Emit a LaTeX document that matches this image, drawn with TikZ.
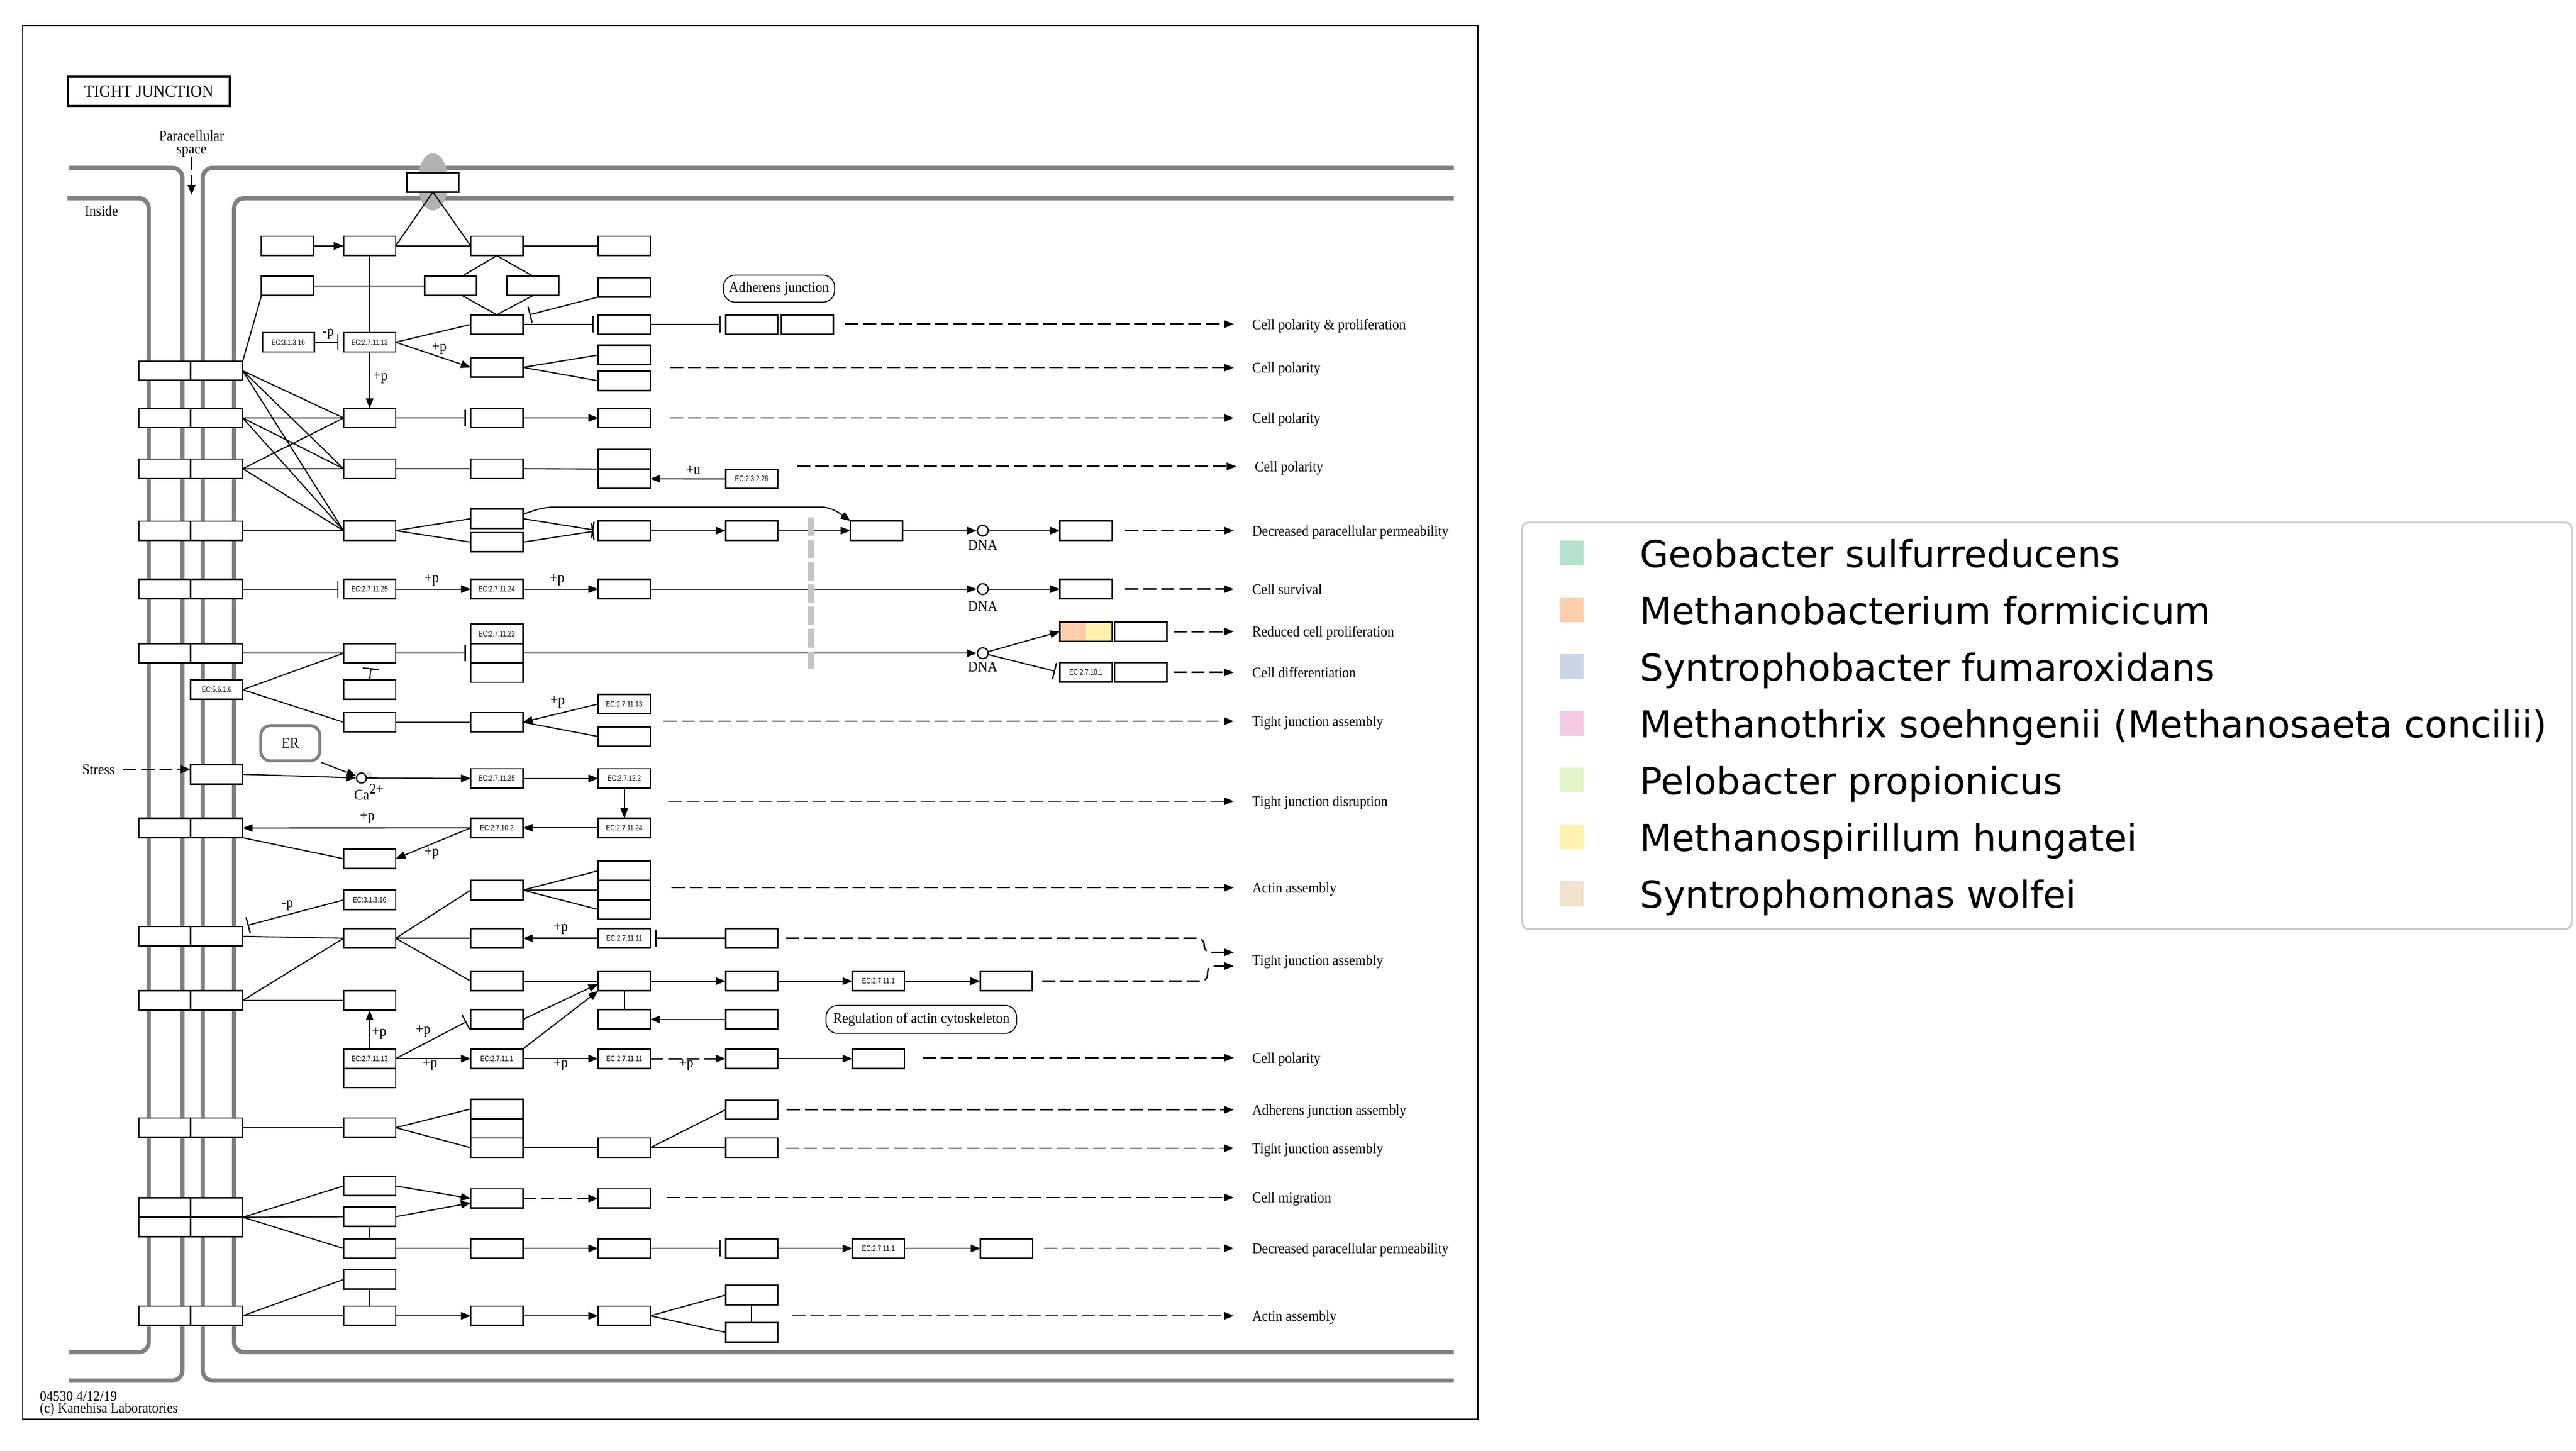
\documentclass[tikz,border=0pt]{standalone}
\usepackage{fontspec}
\usetikzlibrary{arrows.meta,calc}
\newfontfamily\keggfont[FakeStretch=0.92]{Liberation Serif}
\newfontfamily\ecfont[FakeStretch=0.8]{Liberation Sans}
\newfontfamily\legendfont{DejaVu Sans}
\definecolor{geo}{HTML}{B3E2CD}
\definecolor{mbf}{HTML}{FDCDAC}
\definecolor{sfu}{HTML}{CBD5E8}
\definecolor{mso}{HTML}{F4CAE4}
\definecolor{ppr}{HTML}{E6F5C9}
\definecolor{mhu}{HTML}{FFF2AE}
\definecolor{swo}{HTML}{F1E2CC}
\begin{document}
\begin{tikzpicture}[x=1pt,y=-1pt,
    gene/.style={draw,line width=0.9pt,fill=white,minimum width=31.7pt,
        minimum height=11.8pt,inner sep=0pt,outer sep=0pt},
    ecbox/.style={gene,font=\ecfont\fontsize{4.8}{5}\selectfont},
    lbl/.style={inner sep=0pt,font=\keggfont\fontsize{9}{10}\selectfont},
    outcome/.style={lbl,anchor=west,text height=6.4pt,text depth=0pt},
    pill/.style={draw,line width=0.6pt,rounded corners=7pt,inner sep=0pt,
        font=\keggfont\fontsize{9}{10}\selectfont},
    dnacirc/.style={circle,draw,line width=0.8pt,fill=white,minimum size=6.6pt,inner sep=0pt}]
  \tikzstyle{membrane}=[draw=gray,line width=2.6pt,rounded corners=6pt]
  \tikzstyle{act}=[line width=0.7pt,-{Triangle[length=6pt,width=4.6pt]}]
  \tikzstyle{inh}=[line width=0.7pt,-{Bar[width=10pt,line width=0.8pt]},shorten >=3pt]
  \tikzstyle{link}=[line width=0.7pt]
  \tikzstyle{dact}=[act,line width=0.9pt,dash pattern=on 8pt off 3pt]
  \tikzstyle{outarrow}=[dact,shorten >=11pt]
  \tikzstyle{swatch}=[minimum width=14.5pt,minimum height=15pt,inner sep=0pt]
  \tikzstyle{legtext}=[anchor=base west,inner sep=0pt,font=\legendfont\fontsize{22.6}{26}\selectfont]

  \useasboundingbox (0,0) rectangle (1568,883);
  \fill[white] (0,0) rectangle (1568,883);

  % frame and membranes
  \draw[line width=0.9pt] (13.8,15.7) rectangle (899.5,864);
  \node[draw,line width=1.2pt,minimum width=98.5pt,minimum height=17.6pt,inner sep=0pt,
      font=\keggfont\fontsize{10.5}{12}\selectfont] (title) at (90.6,55.6) {TIGHT JUNCTION};
  \draw[membrane] (42,102.2) -- (111,102.2) -- (111,840.3) -- (42,840.3);
  \draw[membrane] (41,120.7) -- (90.5,120.7) -- (90.5,823) -- (42,823);
  \draw[membrane] (885,102.2) -- (123.4,102.2) -- (123.4,840.3) -- (885,840.3);
  \draw[membrane] (885,120.7) -- (142.5,120.7) -- (142.5,823) -- (885,823);
  \fill[gray!60] (263.5,110.7) ellipse [x radius=9.3pt,y radius=17.4pt];

  \node[lbl,align=center,font=\keggfont\fontsize{9}{7.8}\selectfont] (para) at (116.6,87.4) {Paracellular\\space};
  \coordinate (paraend) at (116.6,118.6);
  \draw[dact] (para.south) -- (paraend);
  \node[lbl] (inside) at (61.7,128.5) {Inside};

  % junction proteins
  \foreach \n/\y in {1/225.7,2/254.4,3/285.3,4/323.1,5/358.6,6/397.6,7/504,8/569.9,9/609,10/686.4,12/800.9}
    {\node[gene] (ja\n) at (100.3,\y) {};
     \node[gene] (jb\n) at (131.9,\y) {};}
  \node[gene] (ja11) at (100.3,735) {};
  \node[gene] (jb11) at (131.9,735) {};
  \node[gene] (jc11) at (100.3,746.8) {};
  \node[gene] (jd11) at (131.9,746.8) {};
  \node[ecbox] (ec5616) at (131.9,419.8) {EC:5.6.1.6};
  \node[gene] (js) at (131.9,471.3) {};

  % top block
  \node[gene] (cldn) at (263.5,111) {};
  \node[gene] (a1) at (175,149.7) {};
  \node[gene] (b1) at (225,149.7) {};
  \node[gene] (c1) at (302.4,149.7) {};
  \node[gene] (d1) at (380,149.7) {};
  \node[gene] (a2) at (175,174) {};
  \node[gene] (e2l) at (274.3,174) {};
  \node[gene] (e2r) at (324.4,174) {};
  \node[gene] (d2) at (380,174.9) {};
  \node[gene] (c3) at (302.4,197.5) {};
  \node[gene] (d3) at (380,197.5) {};
  \node[gene] (e3a) at (457.5,197.5) {};
  \node[gene] (e3b) at (491.4,197.5) {};
  \node[pill,minimum width=67.6pt,minimum height=16.4pt] (adh) at (474.2,175.7) {Adherens junction};
  \node[ecbox] (ec3116a) at (175.5,208.3) {EC:3.1.3.16};
  \node[ecbox] (ec271113a) at (225,208.3) {EC:2.7.11.13};
  \node[gene] (c4) at (302.4,223.6) {};
  \node[gene] (d4a) at (380,216.1) {};
  \node[gene] (d4b) at (380,231.8) {};
  \node[gene] (b5) at (225,254.4) {};
  \node[gene] (c5) at (302.4,254.4) {};
  \node[gene] (d5) at (380,254.4) {};
  \node[gene] (b6) at (225,285.3) {};
  \node[gene] (c6) at (302.4,285.3) {};
  \node[gene] (d6a) at (380,279.6) {};
  \node[gene] (d6b) at (380,291.4) {};
  \node[ecbox] (ec2326) at (457.5,291.5) {EC:2.3.2.26};
  \node[gene] (b7) at (225,323) {};
  \node[gene] (c7a) at (302.4,315.7) {};
  \node[gene] (c7b) at (302.4,330) {};
  \node[gene] (d7) at (380,323) {};
  \node[gene] (e7) at (457.5,323) {};
  \node[gene] (f7) at (533.5,323) {};
  \node[dnacirc] (dna1) at (598.2,323) {};
  \node[gene] (g7) at (661,323) {};

  % middle block
  \node[ecbox] (ec271125a) at (225,358.6) {EC:2.7.11.25};
  \node[ecbox] (ec271124a) at (302.4,358.6) {EC:2.7.11.24};
  \node[gene] (d8) at (380,358.6) {};
  \node[dnacirc] (dna2) at (598.2,358.6) {};
  \node[gene] (g8) at (661,358.6) {};
  \node[gene] (b9) at (225,397.6) {};
  \node[ecbox] (c9a) at (302.4,385.8) {EC:2.7.11.22};
  \node[gene] (c9b) at (302.4,397.6) {};
  \node[gene] (c9c) at (302.4,409.4) {};
  \node[dnacirc] (dna3) at (598.2,397.6) {};
  \node[gene,path picture={
      \fill[mbf] (path picture bounding box.south west) rectangle (path picture bounding box.north);
      \fill[mhu] (path picture bounding box.north) rectangle (path picture bounding box.south east);}]
      (g9a) at (661,384.4) {};
  \node[gene] (g9b) at (694.4,384.4) {};
  \node[ecbox] (ec27101) at (661,409.3) {EC:2.7.10.1};
  \node[gene] (g10b) at (694.4,409.3) {};
  \node[gene] (b10) at (225,419.7) {};
  \coordinate (b10t) at (225.8,406.7);
  \node[gene] (b11) at (225,439.6) {};
  \node[gene] (c11) at (302.4,439.6) {};
  \node[ecbox] (ec271113b) at (380,428.5) {EC:2.7.11.13};
  \node[gene] (d11) at (380,448.3) {};
  \node[draw=gray,line width=1.8pt,rounded corners=6pt,minimum width=36pt,minimum height=21.5pt,
      inner sep=0pt,font=\keggfont\fontsize{9}{10}\selectfont] (er) at (176.7,452.4) {ER};
  \node[inner sep=0pt,text=black!30,font=\ecfont\fontsize{4.6}{5}\selectfont] (cpd) at (220.1,471.4) {C00076};
  \node[dnacirc,minimum size=6pt] (ca) at (220,473.6) {};
  \node[ecbox] (ec271125b) at (302.4,473.8) {EC:2.7.11.25};
  \node[ecbox] (ec27122) at (380,473.8) {EC:2.7.12.2};
  \node[ecbox] (ec27102) at (302.4,503.9) {EC:2.7.10.2};
  \node[ecbox] (ec271124b) at (380,503.9) {EC:2.7.11.24};
  \node[gene] (b13) at (225,522.7) {};

  % lower block
  \node[ecbox] (ec3116b) at (225,547.8) {EC:3.1.3.16};
  \node[gene] (c14) at (302.4,541.8) {};
  \node[gene] (d14a) at (380,530) {};
  \node[gene] (d14b) at (380,541.8) {};
  \node[gene] (d14c) at (380,553.6) {};
  \node[gene] (b15) at (225,571.1) {};
  \node[gene] (c15) at (302.4,571.1) {};
  \node[ecbox] (ec271111a) at (380,571.1) {EC:2.7.11.11};
  \node[gene] (e15) at (457.5,571.1) {};
  \node[gene] (c16) at (302.4,597.2) {};
  \node[gene] (d16) at (380,597.2) {};
  \node[gene] (e16) at (457.5,597.2) {};
  \node[ecbox] (ec27111a) at (534.7,597.2) {EC:2.7.11.1};
  \node[gene] (f16) at (612.5,597.2) {};
  \node[gene] (b17) at (225,609) {};
  \node[gene] (c18) at (302.4,620.5) {};
  \node[gene] (d18) at (380,620.5) {};
  \node[gene] (e18) at (457.5,620.5) {};
  \node[pill,minimum width=116pt,minimum height=17pt] (reg) at (560.8,620.5) {Regulation of actin cytoskeleton};
  \node[ecbox] (ec271113c) at (225,644.4) {EC:2.7.11.13};
  \node[gene] (b19) at (225,656.2) {};
  \node[ecbox] (ec27111b) at (302.4,644.4) {EC:2.7.11.1};
  \node[ecbox] (ec271111b) at (380,644.4) {EC:2.7.11.11};
  \node[gene] (e19) at (457.5,644.4) {};
  \node[gene] (f19) at (534.7,644.4) {};
  \node[gene] (b20) at (225,686.4) {};
  \node[gene] (c20a) at (302.4,675) {};
  \node[gene] (c20b) at (302.4,686.8) {};
  \node[gene] (c20c) at (302.4,698.6) {};
  \node[gene] (d21) at (380,698.6) {};
  \node[gene] (e20) at (457.5,675.5) {};
  \node[gene] (e21) at (457.5,698.6) {};
  \node[gene] (b22) at (225,721.9) {};
  \node[gene] (b23) at (225,740.6) {};
  \node[gene] (b24) at (225,759.9) {};
  \node[gene] (c22) at (302.4,729.5) {};
  \node[gene] (d22) at (380,729.5) {};
  \node[gene] (c24) at (302.4,759.9) {};
  \node[gene] (d24) at (380,759.9) {};
  \node[gene] (e24) at (457.5,759.9) {};
  \node[ecbox] (ec27111c) at (534.7,759.9) {EC:2.7.11.1};
  \node[gene] (f24) at (612.7,759.9) {};
  \node[gene] (b25) at (225,778.8) {};
  \node[gene] (b26) at (225,800.9) {};
  \node[gene] (c26) at (302.4,800.9) {};
  \node[gene] (d26) at (380,800.9) {};
  \node[gene] (e26a) at (457.5,788.3) {};
  \node[gene] (e26b) at (457.5,811) {};

  % small labels
  \node[lbl] (lm1) at (199.8,203.2) {-p};
  \node[lbl] (lp1) at (267.4,212) {+p};
  \node[lbl] (lp2) at (231.5,229.8) {+p};
  \node[lbl] (lu1) at (422,286.4) {+u};
  \node[lbl] (lp3) at (262.8,353) {+p};
  \node[lbl] (lp4) at (339.1,353) {+p};
  \node[lbl] (lp5) at (339.4,427.2) {+p};
  \node[lbl] (lp6) at (223.5,497.7) {+p};
  \node[lbl] (lp7) at (262.8,519.5) {+p};
  \node[lbl] (lm2) at (175,551.3) {-p};
  \node[lbl] (lp8) at (341.3,565.3) {+p};
  \node[lbl] (lp9) at (257.6,627.9) {+p};
  \node[lbl] (lp10) at (230.8,629) {+p};
  \node[lbl] (lp11) at (261.7,648.2) {+p};
  \node[lbl] (lp12) at (341.3,648.2) {+p};
  \node[lbl] (lp13) at (417.7,648.2) {+p};
  \node[lbl] (dnal1) at (598.2,331.8) {DNA};
  \node[lbl] (dnal2) at (598.2,369) {DNA};
  \node[lbl] (dnal3) at (598.2,405.9) {DNA};
  \node[lbl] (cal) at (224.6,482) {Ca\raisebox{3.6pt}{2+}};
  \node[lbl,anchor=east] (stress) at (70,468.3) {Stress};

  % connectors, top block
  \draw[act] (a1) -- (b1);
  \draw[link] (b1) -- (c1) (c1) -- (d1);
  \draw[link] (cldn.south) -- (b1.east) (cldn.south) -- (c1.west);
  \draw[link] (b1.south) -- (ec271113a.north);
  \draw[link] (a2) -- (e2l);
  \draw[link] (c1.south) -- ([xshift=7pt]e2l.north) (c1.south) -- (e2r.north);
  \draw[link] ([xshift=7pt]e2l.south) -- (c3.north) (e2r.south) -- (c3.north);
  \draw[inh,shorten >=0pt] (d2.south west) -- ([xshift=4pt]c3.north east);
  \draw[inh] (c3) -- (d3);
  \draw[inh] (d3) -- (e3a);
  \draw[inh] (ec3116a) -- (ec271113a);
  \draw[act] (ec271113a.south) -- (b5.north);
  \draw[link] (ec271113a.east) -- (c3.west);
  \draw[act] (ec271113a.east) -- (c4.west);
  \draw[link] (c4.east) -- (d4a.west) (c4.east) -- (d4b.west);
  \draw[link] (jb1.north east) -- (a2.south west);
  \foreach \j in {jb1,jb2,jb3}
    \draw[link] (\j.east) -- (b5.west) (\j.east) -- (b6.west) (\j.east) -- (b7.west);
  \draw[link] (jb4) -- (b7);
  \draw[inh] (b5) -- (c5);
  \draw[act] (c5) -- (d5);
  \draw[link] (b6) -- (c6) (c6.east) -- (d6a.south west);
  \draw[act] (ec2326) -- (d6b);
  \draw[link] (b7.east) -- (c7a.west) (b7.east) -- (c7b.west);
  \draw[inh] (c7a.east) -- (d7.west);
  \draw[inh] (c7b.east) -- (d7.west);
  \draw[act] (d7) -- (e7);
  \draw[act] (e7) -- (f7);
  \draw[act] (f7) -- (dna1);
  \draw[act] (dna1) -- (g7);
  \draw[act,rounded corners=6pt] ([yshift=2.7pt]c7a.east) -- ++(13.4,-4.4)
      -- ($(f7.north west)+(-12,-8.5)$) -- (f7.north west);

  % connectors, middle block
  \draw[inh] (jb5) -- (ec271125a);
  \draw[act] (ec271125a) -- (ec271124a);
  \draw[act] (ec271124a) -- (d8);
  \draw[act] (d8) -- (dna2);
  \draw[act] (dna2) -- (g8);
  \draw[link] (jb6) -- (b9);
  \draw[inh] (b9) -- (c9b);
  \draw[act] (c9b) -- (dna3);
  \draw[act] (dna3) -- (g9a.west);
  \draw[inh] (dna3) -- (ec27101.west);
  \draw[link] (ec5616.east) -- (b9.west) (ec5616.east) -- (b11.west);
  \draw[inh,shorten >=0pt] (b10.north) -- (b10t);
  \draw[link] (b11) -- (c11);
  \draw[act] (ec271113b.west) -- (c11.east);
  \draw[link] (c11.east) -- (d11.west);
  \draw[dact,shorten <=5pt] (stress.east) -- (stress.east -| js.west);
  \draw[act] (js.east) -- (ca);
  \draw[act] (er.south east) -- (ca);
  \draw[act] (ca) -- (ec271125b);
  \draw[act] (ec271125b) -- (ec27122);
  \draw[act] (ec27122) -- (ec271124b);
  \draw[act] (ec271124b) -- (ec27102);
  \draw[act] (ec27102.west) -- (jb7.east);
  \draw[act] (ec27102.west) -- (b13.east);
  \draw[link] (jb7.south east) -- (b13.west);

  % connectors, lower block
  \draw[inh] (ec3116b.west) -- (jb8.north east);
  \draw[link] (jb8.east) -- (b15.west) (jb9.east) -- (b15.west) (jb9) -- (b17);
  \draw[link] (b15.east) -- (c14.west) (b15.east) -- (c15.west) (b15.east) -- (c16.west);
  \draw[link] (c14.east) -- (d14a.west) (c14.east) -- (d14b.west) (c14.east) -- (d14c.west);
  \draw[act] (ec271111a) -- (c15);
  \draw[inh] (e15) -- (ec271111a);
  \draw[link] (c16) -- (d16);
  \draw[act] (d16) -- (e16);
  \draw[act] (e16) -- (ec27111a);
  \draw[act] (ec27111a) -- (f16);
  \draw[link] (d16) -- (d18);
  \draw[act] (e18) -- (d18);
  \draw[act] (c18.east) -- ([yshift=-1.7pt]d16.west);
  \draw[act] (ec27111b.north east) -- (d16.south west);
  \draw[inh] (ec271113c.east) -- (c18.west);
  \draw[act] (ec271113c.north) -- (b17.south);
  \draw[act] (ec271113c) -- (ec27111b);
  \draw[act] (ec27111b) -- (ec271111b);
  \draw[dact] (ec271111b) -- (e19);
  \draw[act] (e19) -- (f19);
  \draw[link] (jb10) -- (b20);
  \draw[link] (b20.east) -- (c20a.west) (b20.east) -- (c20c.west);
  \draw[link] (c20c) -- (d21);
  \draw[link] (d21.east) -- (e20.west) (d21.east) -- (e21.west);
  \draw[link] (jb11.south east) -- (b22.west) (jb11.south east) -- (b23.west) (jb11.south east) -- (b24.west);
  \draw[act] (b22.east) -- (c22.west);
  \draw[act] (b23.east) -- ([yshift=-2.7pt]c22.west);
  \draw[link] (b23) -- (b24);
  \draw[dact] (c22) -- (d22);
  \draw[link] (b24) -- (c24);
  \draw[act] (c24) -- (d24);
  \draw[inh] (d24) -- (e24);
  \draw[act] (e24) -- (ec27111c);
  \draw[act] (ec27111c) -- (f24);
  \draw[link] (jb12.east) -- (b25.west) (jb12.east) -- (b26.west);
  \draw[link] (b25) -- (b26);
  \draw[act] (b26) -- (c26);
  \draw[act] (c26) -- (d26);
  \draw[link] (d26.east) -- (e26a.west) (d26.east) -- (e26b.west);
  \draw[link] (e26a) -- (e26b);

  \draw[gray!45,line width=4pt,dash pattern=on 11.3pt off 2.3pt] (493.6,314.8) -- (493.6,407.4);

  % outcomes
  \node[outcome] (cpp) at (762,197.3) {Cell polarity \& proliferation};
  \draw[outarrow] ($(cpp.west -| e3b.east)+(7,0)$) -- (cpp.west);
  \node[outcome] (cp1) at (762,223.8) {Cell polarity};
  \draw[outarrow] ($(cp1.west -| d4a.east)+(12,0)$) -- (cp1.west);
  \node[outcome] (cp2) at (762,254.4) {Cell polarity};
  \draw[outarrow] ($(cp2.west -| d5.east)+(12,0)$) -- (cp2.west);
  \node[outcome] (cp3) at (763.6,283.9) {Cell polarity};
  \draw[outarrow] ($(cp3.west -| ec2326.east)+(12,0)$) -- (cp3.west);
  \node[outcome] (dpp1) at (762,323) {Decreased paracellular permeability};
  \draw[outarrow] ($(dpp1.west -| g7.east)+(8,0)$) -- (dpp1.west);
  \node[outcome] (cs) at (762,358.6) {Cell survival};
  \draw[outarrow] ($(cs.west -| g8.east)+(8,0)$) -- (cs.west);
  \node[outcome] (rcp) at (762,384.4) {Reduced cell proliferation};
  \draw[outarrow] ($(rcp.west -| g9b.east)+(4,0)$) -- (rcp.west);
  \node[outcome] (cdf) at (762,409.3) {Cell differentiation};
  \draw[outarrow] ($(cdf.west -| g10b.east)+(4,0)$) -- (cdf.west);
  \node[outcome] (tja1) at (762,439) {Tight junction assembly};
  \draw[outarrow] ($(tja1.west -| ec271113b.east)+(8,0)$) -- (tja1.west);
  \node[outcome] (tjd) at (762,487.7) {Tight junction disruption};
  \draw[outarrow] ($(tjd.west -| ec27122.east)+(11,0)$) -- (tjd.west);
  \node[outcome] (aa1) at (762,540.3) {Actin assembly};
  \draw[outarrow] ($(aa1.west -| d14a.east)+(13,0)$) -- (aa1.west);
  \node[outcome] (tja2) at (762,584.2) {Tight junction assembly};
  \draw[dact,rounded corners=4pt] ($(e15.east)+(5,0)$) -- (733,571.1) -- (733,579.7)
      -- ($(tja2.west)+(-11,-4.5)$);
  \draw[dact,rounded corners=4pt] ($(f16.east)+(6,0)$) -- (735,597.2) -- (735,588)
      -- ($(tja2.west)+(-11,3.8)$);
  \node[outcome] (cp4) at (762,643.8) {Cell polarity};
  \draw[outarrow] ($(cp4.west -| f19.east)+(11,0)$) -- (cp4.west);
  \node[outcome] (aja) at (762,675.5) {Adherens junction assembly};
  \draw[outarrow] ($(aja.west -| e20.east)+(5.5,0)$) -- (aja.west);
  \node[outcome] (tja3) at (762,698.9) {Tight junction assembly};
  \draw[outarrow] ($(tja3.west -| e21.east)+(5,0)$) -- (tja3.west);
  \node[outcome] (cmg) at (762,728.9) {Cell migration};
  \draw[outarrow] ($(cmg.west -| d22.east)+(10,0)$) -- (cmg.west);
  \node[outcome] (dpp2) at (762,759.8) {Decreased paracellular permeability};
  \draw[outarrow] ($(dpp2.west -| f24.east)+(7,0)$) -- (dpp2.west);
  \node[outcome] (aa2) at (762,800.9) {Actin assembly};
  \draw[outarrow] ($(aa2.west -| e26a.east)+(9,0)$) -- (aa2.west);

  % footer
  \node[lbl,anchor=west,font=\keggfont\fontsize{8.8}{10}\selectfont] (ver) at (24,850) {04530 4/12/19};
  \node[lbl,anchor=west,font=\keggfont\fontsize{8.8}{10}\selectfont] (copy) at (24,858) {(c) Kanehisa Laboratories};

  % legend
  \draw[draw=black!20,line width=1.1pt,rounded corners=4pt,fill=white] (926.5,318) rectangle (1565.5,565.5);
  \foreach \c/\t [count=\i from 0] in {geo/Geobacter sulfurreducens,mbf/Methanobacterium formicicum,
      sfu/Syntrophobacter fumaroxidans,mso/Methanothrix soehngenii (Methanosaeta concilii),
      ppr/Pelobacter propionicus,mhu/Methanospirillum hungatei,swo/Syntrophomonas wolfei}
    {\node[swatch,fill=\c] (sw\i) at (956.6,{336.7+34.55*\i}) {};
     \node[legtext] (lt\i) at (998,{345.4+34.55*\i}) {\t};}
\end{tikzpicture}
\end{document}
